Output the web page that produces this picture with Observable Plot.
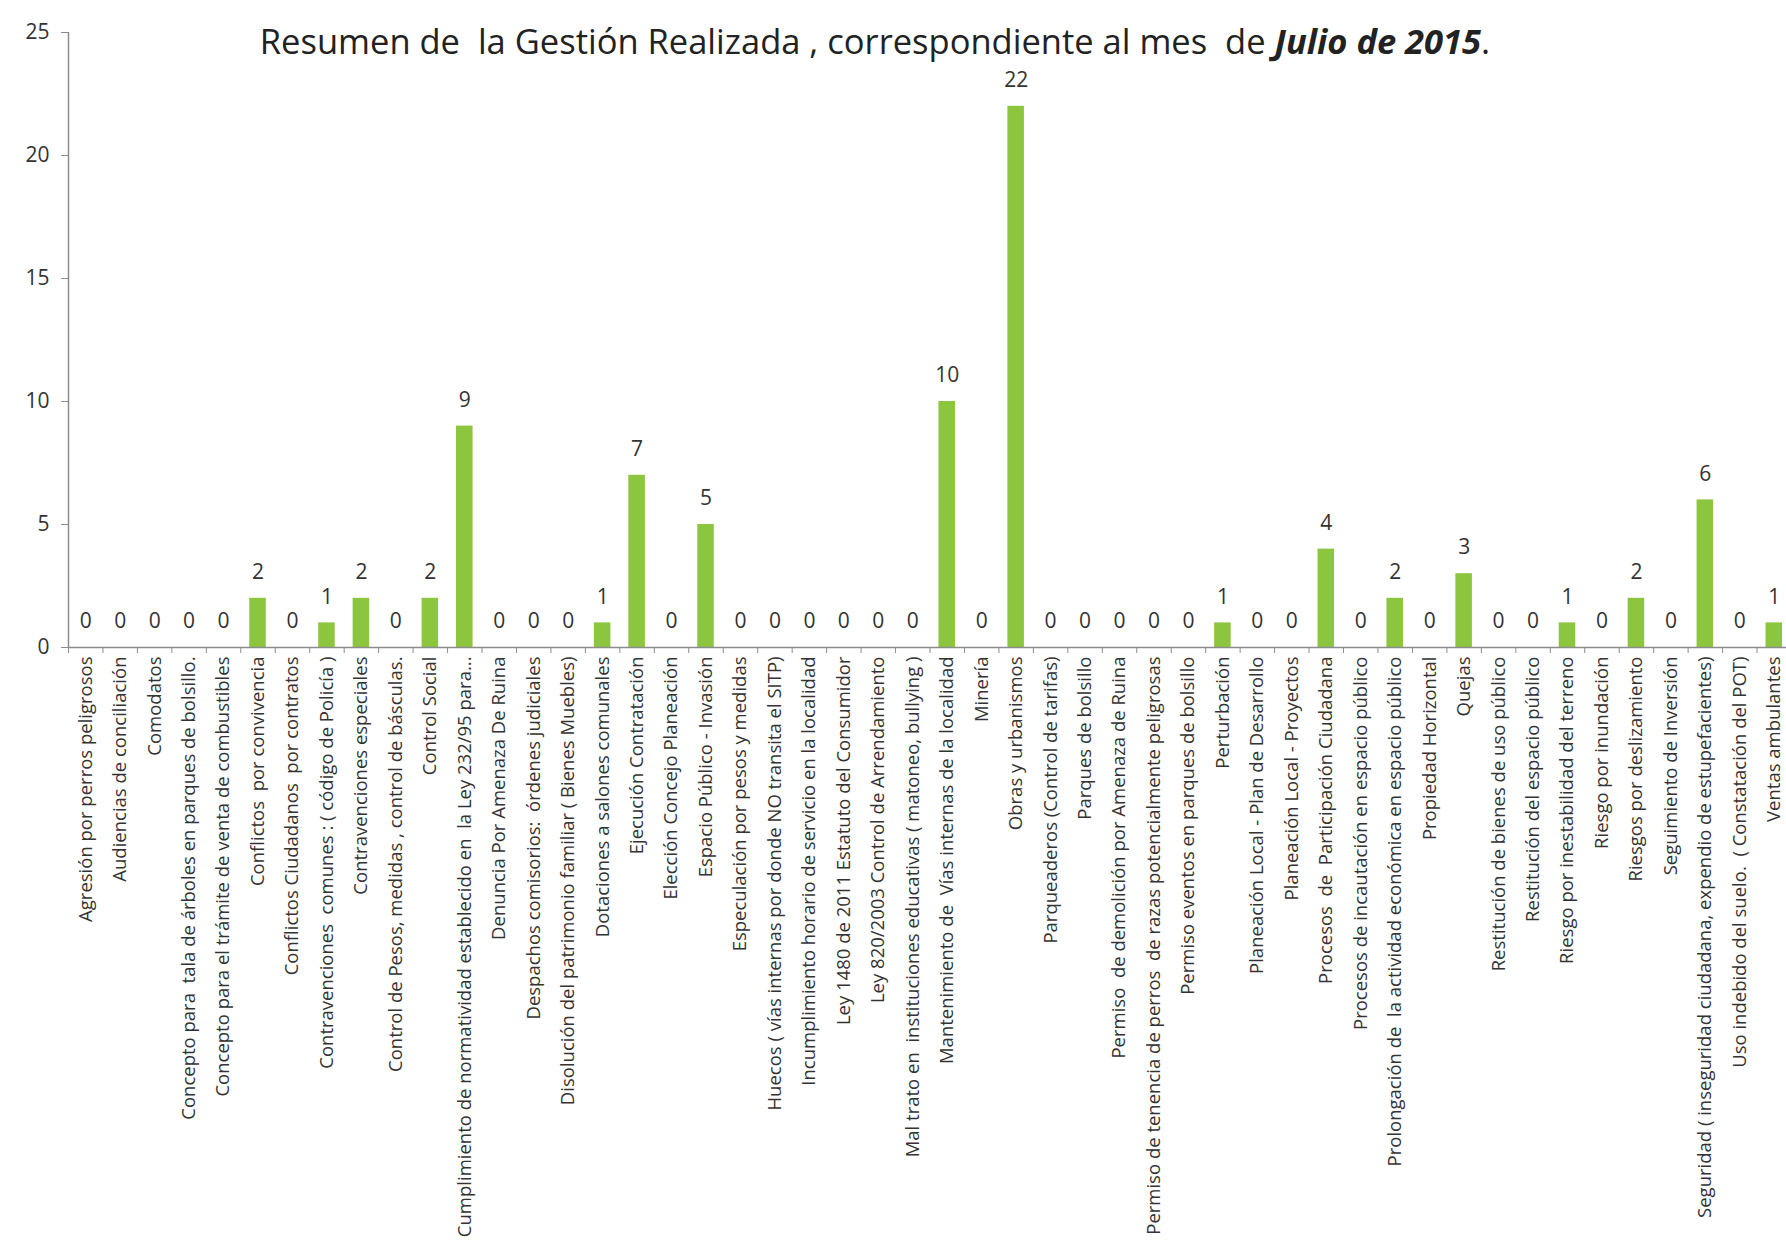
<!DOCTYPE html>
<html>
<head>
<meta charset="utf-8">
<script src="https://cdn.jsdelivr.net/npm/d3@7"></script>
<script src="https://cdn.jsdelivr.net/npm/@observablehq/plot@0.6"></script>
<style>
  html, body { margin: 0; padding: 0; background: #fff; }
  #wrap { position: relative; width: 1786px; height: 1246px; overflow: hidden; font-family: "Open Sans", sans-serif; }
  #title { position: absolute; left: 0; width: 1750px; top: 17px; text-align: center; font-size: 34.5px; color: #222; white-space: pre; }
  #title b { font-weight: 700; font-style: italic; }
  #chart { position: absolute; left: 0; top: 0; }
</style>
</head>
<body>
<div id="wrap">
  <div id="chart"></div>
  <div id="title">Resumen de  la Gestión Realizada , correspondiente al mes  de <b>Julio de 2015</b>.</div>
</div>
<script>
const categories = [
  "Agresión por perros peligrosos",
  "Audiencias de conciliación",
  "Comodatos",
  "Concepto para  tala de árboles en parques de bolsillo.",
  "Concepto para el trámite de venta de combustibles",
  "Conflictos  por convivencia",
  "Conflictos Ciudadanos  por contratos",
  "Contravenciones  comunes : ( código de Policía )",
  "Contravenciones especiales",
  "Control de Pesos, medidas , control de básculas.",
  "Control Social",
  "Cumplimiento de normatividad establecido en  la Ley 232/95 para...",
  "Denuncia Por Amenaza De Ruina",
  "Despachos comisorios:  órdenes judiciales",
  "Disolución del patrimonio familiar ( Bienes Muebles)",
  "Dotaciones a salones comunales",
  "Ejecución Contratación",
  "Elección Concejo Planeación",
  "Espacio Público - Invasión",
  "Especulación por pesos y medidas",
  "Huecos ( vías internas por donde NO transita el SITP)",
  "Incumplimiento horario de servicio en la localidad",
  "Ley 1480 de 2011 Estatuto del Consumidor",
  "Ley 820/2003 Control de Arrendamiento",
  "Mal trato en  instituciones educativas ( matoneo, bullying )",
  "Mantenimiento de  Vías internas de la localidad",
  "Minería",
  "Obras y urbanismos",
  "Parqueaderos (Control de tarifas)",
  "Parques de bolsillo",
  "Permiso  de demolición por Amenaza de Ruina",
  "Permiso de tenencia de perros  de razas potencialmente peligrosas",
  "Permiso eventos en parques de bolsillo",
  "Perturbación",
  "Planeación Local - Plan de Desarrollo",
  "Planeación Local - Proyectos",
  "Procesos  de  Participación Ciudadana",
  "Procesos de incautación en espacio público",
  "Prolongación de  la actividad económica en espacio público",
  "Propiedad Horizontal",
  "Quejas",
  "Restitución de bienes de uso público",
  "Restitución del espacio público",
  "Riesgo por inestabilidad del terreno",
  "Riesgo por inundación",
  "Riesgos por deslizamiento",
  "Seguimiento de Inversión",
  "Seguridad ( inseguridad ciudadana, expendio de estupefacientes)",
  "Uso indebido del suelo.  ( Constatación del POT)",
  "Ventas ambulantes"
];
const values = [0,0,0,0,0,2,0,1,2,0,2,9,0,0,0,1,7,0,5,0,0,0,0,0,0,10,0,22,0,0,0,0,0,1,0,0,4,0,2,0,3,0,0,1,0,2,0,6,0,1];
const yTicks = [0, 5, 10, 15, 20, 25];

const data = categories.map((c, i) => ({category: c, value: values[i]}));

const W = 1786, H = 1246;
const mL = 68, mR = -5, mT = 32, mB = 599;
const band = (W - mR - mL) / categories.length;

const chart = Plot.plot({
  width: W,
  height: H,
  marginLeft: mL,
  marginRight: mR,
  marginTop: mT,
  marginBottom: mB,
  style: {fontFamily: "'Open Sans', sans-serif", color: "#333", background: "transparent"},
  x: {domain: categories, padding: 0, round: false, label: null},
  y: {domain: [0, 25], label: null},
  marks: [
    Plot.barY(data, {x: "category", y: "value", fill: "#8cc63f", insetLeft: band * 0.26, insetRight: band * 0.26}),
    Plot.ruleY([0], {stroke: "#8c8c8c", strokeWidth: 1.5}),
    Plot.ruleX([categories[0]], {y1: 0, y2: 25, dx: -band / 2, stroke: "#8c8c8c", strokeWidth: 1.5}),
    Plot.axisY({ticks: yTicks, tickSize: 7, tickPadding: 12, fontSize: 21, stroke: "#8c8c8c", strokeOpacity: 1, label: null}),
    Plot.axisX({tickSize: 0, tickPadding: 9, tickRotate: -90, fontSize: 18.5, label: null}),
    Plot.axisX({tickSize: 6, tickFormat: () => "", dx: -band / 2, stroke: "#8c8c8c", strokeOpacity: 1, label: null}),
    Plot.text(data, {x: "category", y: "value", text: d => String(d.value), dy: -26, fontSize: 21, fill: "#333"})
  ]
});
document.getElementById("chart").appendChild(chart);
</script>
</body>
</html>
